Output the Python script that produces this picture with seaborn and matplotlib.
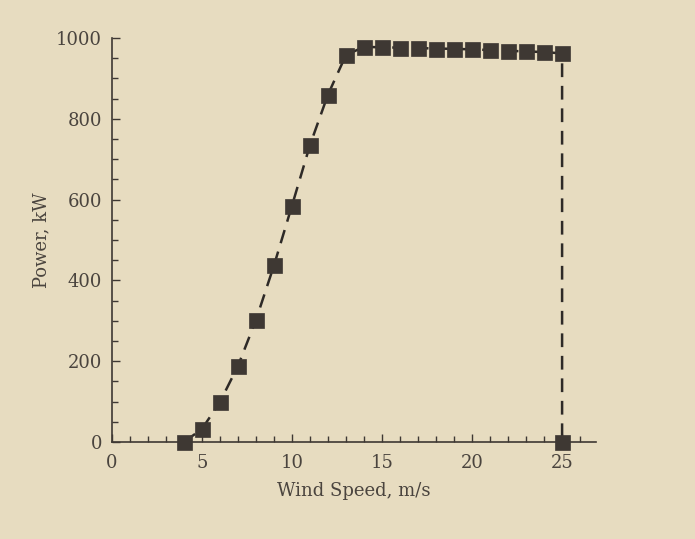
import matplotlib
matplotlib.use("Agg")
import matplotlib.pyplot as plt
import seaborn as sns
import pandas as pd
from matplotlib.ticker import MultipleLocator

wind_speed = [4, 5, 6, 7, 8, 9, 10, 11, 12, 13, 14, 15, 16, 17, 18, 19, 20, 21, 22, 23, 24, 25, 25]
power_kw = [0, 32, 99, 188, 302, 437, 585, 735, 860, 958, 978, 977, 976, 975, 974, 973, 972, 970, 968, 967, 965, 962, 0]

df = pd.DataFrame({"wind": wind_speed, "power": power_kw})

sns.set_style("ticks")
plt.rcParams['font.family'] = ['DejaVu Serif']

bg = "#e7dcc0"
ink = "#3e3833"
txt = "#4a443e"
fig = plt.figure(figsize=(6.95, 5.39), dpi=100, facecolor=bg)
ax = fig.add_axes([0.161, 0.180, 0.697, 0.7495])
ax.set_facecolor(bg)

sns.lineplot(data=df, x="wind", y="power", sort=False, estimator=None, ax=ax,
             color="#2e2a27", linewidth=1.8, marker="s", markersize=10.8,
             markerfacecolor=ink, markeredgecolor=ink, markeredgewidth=0.5,
             clip_on=False)
ax.lines[0].set_dashes([5.5, 3.5])

ax.set_xlim(0, 26.9)
ax.set_ylim(0, 1000)
ax.xaxis.set_major_locator(MultipleLocator(5))
ax.xaxis.set_minor_locator(MultipleLocator(1))
ax.yaxis.set_major_locator(MultipleLocator(200))
ax.yaxis.set_minor_locator(MultipleLocator(50))
ax.tick_params(which="both", direction="in", colors=ink, labelcolor=txt, labelsize=13, width=1)
ax.tick_params(which="major", length=6, pad=9)
ax.tick_params(axis="y", which="major", pad=7)
ax.tick_params(which="minor", length=4)
sns.despine(ax=ax)
for s in ("left", "bottom"):
    ax.spines[s].set_color(ink)
    ax.spines[s].set_linewidth(1.2)

ax.set_xlabel("Wind Speed, m/s", fontsize=13, color=txt, labelpad=7)
ax.set_ylabel("Power, kW", fontsize=13, color=txt, labelpad=4)

fig.savefig("out.png", dpi=100, facecolor=bg)
